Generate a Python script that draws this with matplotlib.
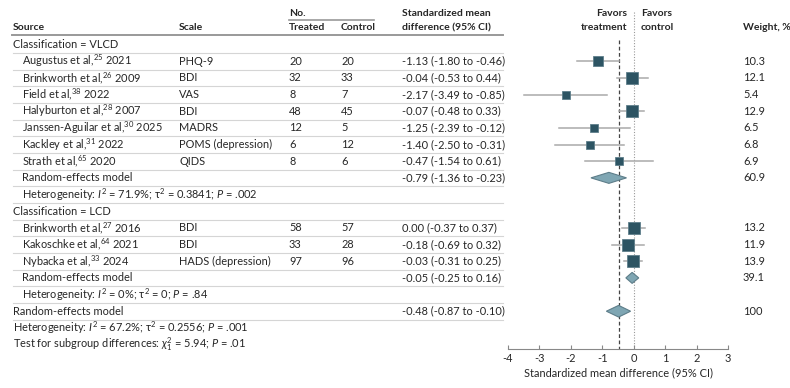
import numpy as np
import matplotlib.pyplot as plt

plt.rcParams['font.family'] = ['Lato', 'DejaVu Sans']
plt.rcParams['mathtext.fontset'] = 'custom'
plt.rcParams['mathtext.rm'] = 'Lato'
plt.rcParams['mathtext.it'] = 'Lato:italic'

# ---- data ----
sources = ["Augustus et al,$^{25}$ 2021", "Brinkworth et al,$^{26}$ 2009",
           "Field et al,$^{38}$ 2022", "Halyburton et al,$^{28}$ 2007",
           "Janssen-Aguilar et al,$^{30}$ 2025", "Kackley et al,$^{31}$ 2022",
           "Strath et al,$^{65}$ 2020",
           "Brinkworth et al,$^{27}$ 2016", "Kakoschke et al,$^{64}$ 2021",
           "Nybacka et al,$^{33}$ 2024"]
scales = ["PHQ-9", "BDI", "VAS", "BDI", "MADRS", "POMS (depression)", "QIDS",
          "BDI", "BDI", "HADS (depression)"]
treated = [20, 32, 8, 48, 12, 6, 8, 58, 33, 97]
control = [20, 33, 7, 45, 5, 12, 6, 57, 28, 96]
smd = [-1.13, -0.04, -2.17, -0.07, -1.25, -1.40, -0.47, 0.00, -0.18, -0.03]
lo = [-1.80, -0.53, -3.49, -0.48, -2.39, -2.50, -1.54, -0.37, -0.69, -0.31]
hi = [-0.46, 0.44, -0.85, 0.33, -0.12, -0.31, 0.61, 0.37, 0.32, 0.25]
weight = [10.3, 12.1, 5.4, 12.9, 6.5, 6.8, 6.9, 13.2, 11.9, 13.9]
group = ["VLCD"] * 7 + ["LCD"] * 3

groups = ["VLCD", "LCD"]
pooled_smd = [-0.79, -0.05]
pooled_lo = [-1.36, -0.25]
pooled_hi = [-0.23, 0.16]
pooled_w = [60.9, 39.1]
het_text = ["Heterogeneity: $I^2$ = 71.9%; τ$^2$ = 0.3841; $P$ = .002",
            "Heterogeneity: $I^2$ = 0%; τ$^2$ = 0; $P$ = .84"]

overall_smd, overall_lo, overall_hi, overall_w = -0.48, -0.87, -0.10, 100
overall_het = "Heterogeneity: $I^2$ = 67.2%; τ$^2$ = 0.2556; $P$ = .001"
subgroup_test = "Test for subgroup differences: $\\chi^2_1$ = 5.94; $P$ = .01"

# ---- layout (pixels) ----
W, H = 790, 388
R0, DR = 44.5, 16.67          # first row centre, row height
AX_BOTTOM = 349
FS = 7.9
HFS = 7.5
sq_col = '#2d5463'
dia_col = '#7fa6b3'
ci_col = '#aaaaaa'
line_col = '#d5d5d5'
txt_col = '#262626'


def prow(p):
    return (p - R0) / DR


fig = plt.figure(figsize=(W / 100, H / 100), dpi=100)
tab = fig.add_axes([0, 0, 1, 1])
tab.set_xlim(0, W)
tab.set_ylim(prow(H), prow(0))
tab.axis('off')

fa = fig.add_axes([508 / W, (H - AX_BOTTOM) / H, 220 / W, AX_BOTTOM / H])
fa.set_xlim(-4, 3)
fa.set_ylim(prow(AX_BOTTOM), prow(0))
fa.patch.set_alpha(0)
for s in ['left', 'right', 'top']:
    fa.spines[s].set_visible(False)
fa.spines['bottom'].set_color('#888888')
fa.set_yticks([])
fa.set_xticks(np.arange(-4, 4))
fa.set_xticklabels([str(v) for v in range(-4, 4)])
fa.tick_params(axis='x', direction='in', length=3, color='#888888',
               labelsize=FS, pad=3, labelcolor=txt_col)
fa.set_xlabel('Standardized mean difference (95% CI)', fontsize=FS,
              color=txt_col, labelpad=2)

# header
hdr = dict(fontsize=HFS, fontweight='bold', color=txt_col, va='center')
y1, y2 = prow(14), prow(28)
tab.text(13, y2, 'Source', **hdr)
tab.text(179, y2, 'Scale', **hdr)
tab.text(289, y1, 'No.', **hdr)
tab.text(289, y2, 'Treated', **hdr)
tab.text(341, y2, 'Control', **hdr)
tab.text(402, y1, 'Standardized mean', **hdr)
tab.text(402, y2, 'difference (95% CI)', **hdr)
tab.text(627, y1, 'Favors', ha='right', **hdr)
tab.text(627, y2, 'treatment', ha='right', **hdr)
tab.text(641, y1, 'Favors', ha='left', **hdr)
tab.text(641, y2, 'control', ha='left', **hdr)
tab.text(743, y2, 'Weight, %', **hdr)
tab.plot([289, 374], [prow(20), prow(20)], color='#999999', lw=1.2)
tab.plot([12, 503], [prow(35), prow(35)], color='#999999', lw=1.4)

txt = dict(fontsize=FS, color=txt_col, va='center')


def diamond(y, m, l, h, half=0.33):
    fa.fill([l, m, h, m], [y, y - half, y, y + half], facecolor=dia_col,
            edgecolor='#5d7d89', lw=0.8, zorder=4)


row = 0
for g_i, g in enumerate(groups):
    tab.text(13, row, 'Classification = ' + g, **txt)
    row += 1
    for i in range(len(sources)):
        if group[i] != g:
            continue
        tab.text(22, row, sources[i], **txt)
        tab.text(179, row, scales[i], **txt)
        tab.text(289, row, str(treated[i]), **txt)
        tab.text(341, row, str(control[i]), **txt)
        tab.text(402, row, f"{smd[i]:.2f} ({lo[i]:.2f} to {hi[i]:.2f})", **txt)
        tab.text(743, row, f"{weight[i]:.1f}", **txt)
        fa.plot([lo[i], hi[i]], [row, row], color=ci_col, lw=1.1, zorder=3)
        fa.plot(smd[i], row, marker='s', ms=3.3 * np.sqrt(weight[i]) * 0.72,
                color=sq_col, mec='#5f7f8b', mew=0.6, zorder=5)
        row += 1
    tab.text(22, row, 'Random-effects model', **txt)
    tab.text(402, row, f"{pooled_smd[g_i]:.2f} ({pooled_lo[g_i]:.2f} to {pooled_hi[g_i]:.2f})", **txt)
    tab.text(743, row, f"{pooled_w[g_i]:.1f}", **txt)
    diamond(row, pooled_smd[g_i], pooled_lo[g_i], pooled_hi[g_i])
    row += 1
    tab.text(22, row, het_text[g_i], **txt)
    row += 1

tab.text(13, row, 'Random-effects model', **txt)
tab.text(402, row, f"{overall_smd:.2f} ({overall_lo:.2f} to {overall_hi:.2f})", **txt)
tab.text(743, row, str(overall_w), **txt)
diamond(row, overall_smd, overall_lo, overall_hi, half=0.35)
last_line = row
row += 1
tab.text(13, row, overall_het, **txt)
tab.text(13, prow(344), subgroup_test, **txt)

# separator lines
for r in range(0, last_line + 1):
    tab.plot([13, 503], [r + 0.5, r + 0.5], color=line_col, lw=0.8)

# reference lines
fa.plot([0, 0], [prow(12), prow(AX_BOTTOM)], color='#999999', lw=0.8,
        ls=(0, (1, 1.5)), zorder=1)
fa.plot([overall_smd, overall_smd], [prow(40), prow(AX_BOTTOM)],
        color='#444444', lw=0.9, ls=(0, (3, 2)), zorder=2)

fig.savefig('out.png', dpi=100)
